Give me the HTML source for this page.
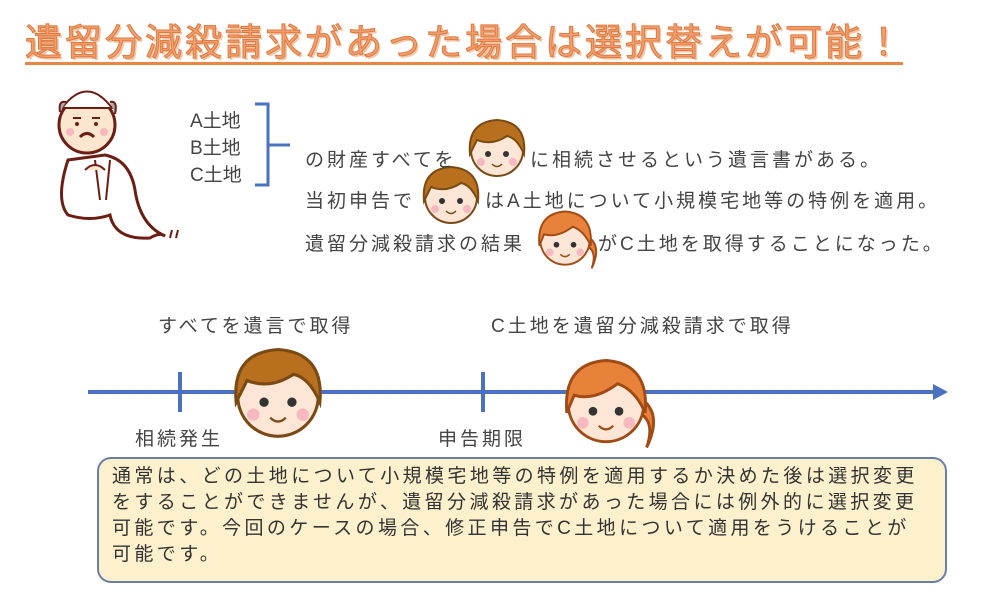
<!DOCTYPE html>
<html><head><meta charset="utf-8"><style>
body{margin:0;width:1000px;height:600px;background:#fff;position:relative;overflow:hidden;font-family:"Liberation Sans","Noto Sans CJK JP",sans-serif;color:#333}
.a{position:absolute;white-space:nowrap}
.t{left:25px;top:12px;font-size:37px;color:#f0a070;letter-spacing:3px;-webkit-text-stroke:1px #e07a40;text-shadow:2px 2px 0 #f3c8a8}
.ul{left:25px;top:62px;width:878px;height:3px;background:#e8864a}
.b{font-size:19px;letter-spacing:3px;color:#444}
.box{left:97px;top:457px;width:846px;height:122px;background:#fdf0cc;border:2px solid #6a7fa6;border-radius:14px}
.bt{left:112px;top:464px;font-size:19px;line-height:26px;letter-spacing:3.4px;color:#333}
</style></head><body>
<div class="a t">遺留分減殺請求があった場合は選択替えが可能！</div>
<div class="a ul"></div>

<svg class="a" style="left:0;top:0" width="1000" height="600">
<g stroke="#6b1e14" stroke-width="3" fill="#fff">
<path d="M68 160 Q55 200 68 215 Q90 222 110 215 Q115 240 150 238 Q160 232 165 236 Q140 225 135 190 Q130 160 105 155 Z"/>
<path d="M95 160 L100 200 M110 160 L106 200" fill="none" stroke-width="2"/>
</g>
<path d="M85 170 Q95 160 105 170" stroke="#6b1e14" stroke-width="2" fill="#fde6d0"/>
<circle cx="87" cy="125" r="28" fill="#fde6d0" stroke="#6b1e14" stroke-width="3"/>
<path d="M62 108 Q87 75 112 108 Z" fill="#fff" stroke="#6b1e14" stroke-width="2"/>
<path d="M60 112 Q58 100 66 102 M110 102 Q118 100 115 114" fill="#aaa" stroke="#6b1e14" stroke-width="2"/>
<path d="M80 137 Q87 130 94 137" stroke="#6b1e14" stroke-width="3" fill="none"/>
<path d="M73 118 h8 M92 118 h8" stroke="#6b1e14" stroke-width="2"/>
<circle cx="77" cy="124" r="2" fill="#6b1e14"/><circle cx="96" cy="124" r="2" fill="#6b1e14"/>
<circle cx="70" cy="132" r="4" fill="#f8b8c0"/><circle cx="104" cy="132" r="4" fill="#f8b8c0"/>
<path d="M172 230 l-2 8 M178 230 l-2 8" stroke="#6b1e14" stroke-width="2"/>
<path d="M255 104 H268 V185 H255 M268 145 H290" stroke="#4a72c0" stroke-width="3" fill="none"/>
<line x1="88" y1="392" x2="935" y2="392" stroke="#4a72c0" stroke-width="4"/>
<polygon points="933,384 948,392 933,400" fill="#4a72c0"/>
<line x1="180" y1="372" x2="180" y2="412" stroke="#4a72c0" stroke-width="4"/>
<line x1="483" y1="372" x2="483" y2="412" stroke="#4a72c0" stroke-width="4"/>
<defs>
<g id="boy">
<circle cx="0" cy="0" r="26" fill="#fde6d6" stroke="#7a4a14" stroke-width="2"/>
<path d="M-27 4 Q-30 -28 0 -30 Q30 -28 27 4 Q20 -12 10 -14 Q-5 -4 -20 -10 Z" fill="#b8701e" stroke="#7a4a14" stroke-width="2"/>
<circle cx="-9" cy="4" r="3" fill="#333"/><circle cx="9" cy="4" r="3" fill="#333"/>
<circle cx="-16" cy="12" r="4" fill="#f8b8c0"/><circle cx="16" cy="12" r="4" fill="#f8b8c0"/>
<path d="M-5 14 Q0 19 5 14" stroke="#7a4a14" stroke-width="1.5" fill="none"/>
</g>
<g id="girl">
<path d="M22 -5 Q40 5 28 30 Q35 10 20 5 Z" fill="#e8823a" stroke="#a04a14" stroke-width="2"/>
<circle cx="0" cy="0" r="26" fill="#fde6d6" stroke="#a04a14" stroke-width="2"/>
<path d="M-27 6 Q-30 -28 0 -30 Q30 -28 27 6 Q20 -10 8 -14 Q-8 -2 -22 -6 Z" fill="#e8823a" stroke="#a04a14" stroke-width="2"/>
<circle cx="-9" cy="5" r="3" fill="#333"/><circle cx="9" cy="5" r="3" fill="#333"/>
<circle cx="-16" cy="13" r="4" fill="#f8b8c0"/><circle cx="16" cy="13" r="4" fill="#f8b8c0"/>
<path d="M-5 15 Q0 20 5 15" stroke="#a04a14" stroke-width="1.5" fill="none"/>
</g>
</defs>
<use href="#boy" transform="translate(497,150)"/>
<use href="#boy" transform="translate(451,197)"/>
<use href="#girl" transform="translate(565,240) scale(0.95)"/>
<use href="#boy" transform="translate(278,396) scale(1.55)"/>
<use href="#girl" transform="translate(606,404) scale(1.45)"/>
</svg>

<div class="a b" style="left:190px;top:108px;line-height:27px;letter-spacing:0">A土地<br>B土地<br>C土地</div>
<div class="a b" style="left:305px;top:145px">の財産すべてを</div>
<div class="a b" style="left:530px;top:145px">に相続させるという遺言書がある。</div>
<div class="a b" style="left:305px;top:186px">当初申告で</div>
<div class="a b" style="left:485px;top:186px">はA土地について小規模宅地等の特例を適用。</div>
<div class="a b" style="left:305px;top:229px">遺留分減殺請求の結果</div>
<div class="a b" style="left:598px;top:229px">がC土地を取得することになった。</div>

<div class="a b" style="left:158px;top:311px">すべてを遺言で取得</div>
<div class="a b" style="left:491px;top:311px">C土地を遺留分減殺請求で取得</div>
<div class="a b" style="left:135px;top:424px">相続発生</div>
<div class="a b" style="left:438px;top:424px">申告期限</div>

<div class="a box"></div>
<div class="a bt">通常は、どの土地について小規模宅地等の特例を適用するか決めた後は選択変更<br>をすることができませんが、遺留分減殺請求があった場合には例外的に選択変更<br>可能です。今回のケースの場合、修正申告でC土地について適用をうけることが<br>可能です。</div>
</body></html>
